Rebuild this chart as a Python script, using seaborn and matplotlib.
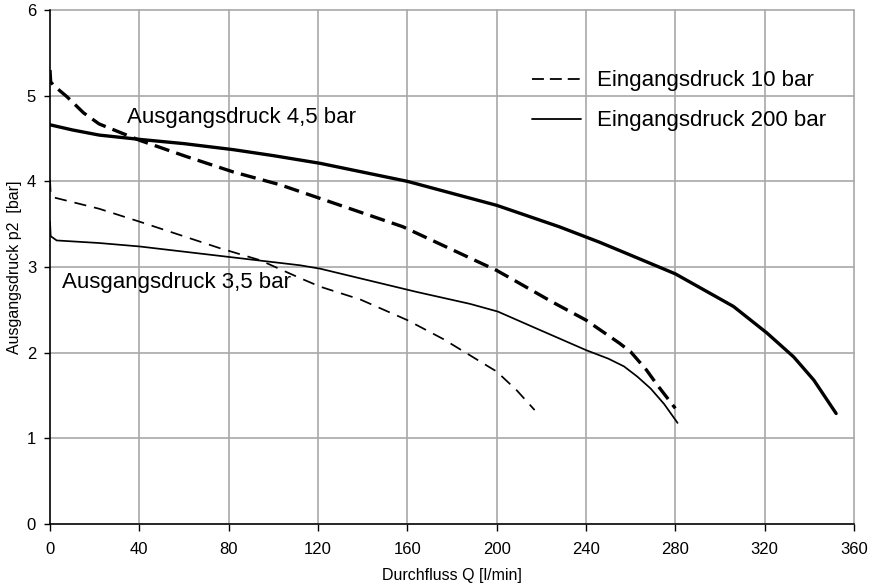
import matplotlib
matplotlib.use("Agg")
import matplotlib.pyplot as plt
from matplotlib.lines import Line2D
import seaborn as sns
import pandas as pd

# ---- data ----
# Eingangsdruck 10 bar, Ausgangsdruck 4,5 bar (thick dashed)
q_10_45 = [0, 0.3, 2, 7.5, 15, 22, 40, 61, 82, 103, 121, 158, 200, 207.5, 225, 240, 255, 260, 267, 272, 280]
p_10_45 = [5.30, 5.16, 5.11, 4.99, 4.80, 4.67, 4.48, 4.29, 4.11, 3.96, 3.80, 3.47, 2.96, 2.85, 2.59, 2.38, 2.11, 2.01, 1.80, 1.62, 1.35]

# Eingangsdruck 200 bar, Ausgangsdruck 4,5 bar (thick solid)
q_200_45 = [0, 10, 22, 40, 60, 82, 100, 121, 160, 200, 228, 246, 258, 280, 293, 306, 321, 327, 333, 342, 352]
p_200_45 = [4.66, 4.60, 4.54, 4.49, 4.44, 4.37, 4.30, 4.21, 4.00, 3.72, 3.47, 3.29, 3.16, 2.92, 2.73, 2.54, 2.23, 2.09, 1.95, 1.68, 1.29]

# Eingangsdruck 10 bar, Ausgangsdruck 3,5 bar (thin dashed)
q_10_35 = [0, 0.3, 2, 22, 40, 76, 94, 112, 121, 139, 160, 176, 188, 193, 200, 209, 217]
p_10_35 = [4.02, 3.85, 3.81, 3.68, 3.53, 3.22, 3.08, 2.87, 2.77, 2.62, 2.38, 2.16, 1.97, 1.89, 1.78, 1.56, 1.33]

# Eingangsdruck 200 bar, Ausgangsdruck 3,5 bar (thin solid)
q_200_35 = [0, 0.3, 3, 22, 40, 76, 112, 121, 164, 188, 200.5, 218, 240, 250, 257, 263, 269, 275, 281]
p_200_35 = [3.53, 3.36, 3.31, 3.28, 3.24, 3.13, 3.02, 2.98, 2.71, 2.57, 2.48, 2.28, 2.03, 1.93, 1.84, 1.72, 1.58, 1.40, 1.18]

x_ticks = [0, 40, 80, 120, 160, 200, 240, 280, 320, 360]
y_ticks = [0, 1, 2, 3, 4, 5, 6]
legend_labels = ["Eingangsdruck 10 bar", "Eingangsdruck 200 bar"]
label_45 = "Ausgangsdruck 4,5 bar"
label_35 = "Ausgangsdruck 3,5 bar"
x_label = "Durchfluss Q [l/min]"
y_label = "Ausgangsdruck p2  [bar]"

# ---- style ----
sns.set_style("white")
plt.rcParams["font.family"] = ["Liberation Sans", "DejaVu Sans"]
plt.rcParams["text.color"] = "black"
plt.rcParams["axes.labelcolor"] = "black"
plt.rcParams["xtick.color"] = "black"
plt.rcParams["ytick.color"] = "black"

fig = plt.figure(figsize=(8.75, 5.85), dpi=100)
ax = fig.add_axes([50 / 875, 61 / 585, 804 / 875, 514 / 585])

thick = 2.4
thin = 1.25

curves = [
    (q_10_45, p_10_45, thick, (0, (4.6, 2.2))),
    (q_200_45, p_200_45, thick, "-"),
    (q_10_35, p_10_35, thin, (0, (7.0, 4.6))),
    (q_200_35, p_200_35, thin, "-"),
]
for q, p, lw, ls in curves:
    df = pd.DataFrame({"Q": q, "p2": p})
    sns.lineplot(data=df, x="Q", y="p2", sort=False, estimator=None,
                 color="black", linewidth=lw, linestyle=ls, legend=False, ax=ax,
                 zorder=3)

ax.set_xlim(0, 360)
ax.set_ylim(0, 6)
ax.set_xticks(x_ticks)
ax.set_yticks(y_ticks)
ax.set_xticklabels([str(v) for v in x_ticks])
ax.set_yticklabels([str(v) for v in y_ticks])

ax.grid(True, color="#a8a8a8", linewidth=1.2, linestyle="-")
for gl in ax.get_xgridlines() + ax.get_ygridlines():
    gl.set_clip_on(False)
ax.set_axisbelow(True)

for s in ["top", "right"]:
    ax.spines[s].set_visible(False)
for s in ["left", "bottom"]:
    ax.spines[s].set_color("black")
    ax.spines[s].set_linewidth(1.1)
    ax.spines[s].set_zorder(4)

ax.tick_params(axis="x", direction="out", length=5, width=1, color="black",
               labelcolor="black", labelsize=12, pad=8, bottom=True)
ax.tick_params(axis="y", direction="out", length=4, width=1, color="black",
               labelcolor="black", labelsize=12, pad=6, left=True)

ax.set_xlabel(x_label, fontsize=11.5, color="black")
ax.set_ylabel(y_label, fontsize=11.5, color="black")
ax.xaxis.set_label_coords(0.5, -0.086)
ax.yaxis.set_label_coords(-0.035, 0.5)

ax.text(34.5, 4.68, label_45, fontsize=16, ha="left", va="baseline", color="black")
ax.text(5.2, 2.75, label_35, fontsize=16, ha="left", va="baseline", color="black")

handles = [
    Line2D([], [], color="black", linewidth=1.3, linestyle=(0, (6.6, 3.3))),
    Line2D([], [], color="black", linewidth=1.3, linestyle="-"),
]
leg = ax.legend(handles, legend_labels, loc="upper left",
                bbox_to_anchor=((532 - 50) / 804 - 0.006, (524 - 66) / 514),
                frameon=False, fontsize=16, handlelength=2.2,
                handletextpad=0.75, labelspacing=0.85, borderaxespad=0,
                borderpad=0.2)
for t in leg.get_texts():
    t.set_color("black")

fig.savefig("out.png", dpi=100)
